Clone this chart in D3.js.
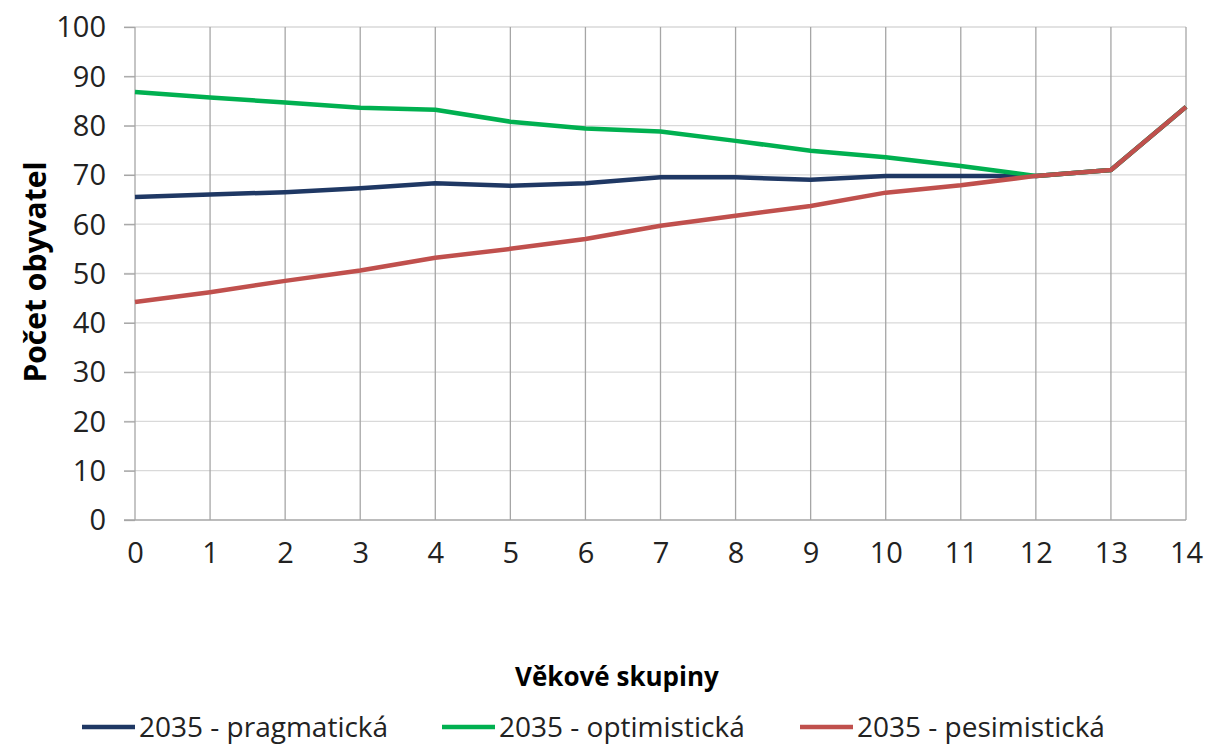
<!DOCTYPE html>
<html><head><meta charset="utf-8">
<script src="https://cdn.jsdelivr.net/npm/d3@7"></script>
<style>body{margin:0;background:#fff}svg{display:block}</style>
</head><body>
<svg id="c" width="1208" height="747"></svg>
<script>
const categories = [0,1,2,3,4,5,6,7,8,9,10,11,12,13,14];
const pragmaticka = [65.5,66.0,66.5,67.3,68.3,67.8,68.3,69.5,69.5,69.0,69.8,69.8,69.8,71.0,83.8];
const optimisticka = [86.8,85.7,84.7,83.6,83.2,80.8,79.4,78.8,76.9,74.9,73.6,71.8,69.8,71.0,83.8];
const pesimisticka = [44.2,46.2,48.5,50.6,53.2,55.0,57.0,59.7,61.7,63.7,66.4,67.9,69.8,71.0,83.8];
const yTicks = [0,10,20,30,40,50,60,70,80,90,100];
const seriesNames = ["2035 - pragmatická","2035 - optimistická","2035 - pesimistická"];
const seriesColors = ["#1f3864","#00b050","#c0504d"];
const xTitle = "Věkové skupiny";
const yTitle = "Počet obyvatel";

const series = [pragmaticka, optimisticka, pesimisticka].map((v,i)=>({name:seriesNames[i], color:seriesColors[i], values:v}));

const svg = d3.select("#c");
const font = "'Open Sans', sans-serif";
const L=135, R=1186, T=27, B=520;
const x = d3.scaleLinear().domain([0,14]).range([L,R]);
const y = d3.scaleLinear().domain([0,100]).range([B,T]);

svg.append("g").selectAll("line").data(yTicks.filter(d=>d>0)).join("line")
  .attr("x1",L-11).attr("x2",R).attr("y1",d=>y(d)).attr("y2",d=>y(d))
  .attr("stroke","#d9d9d9").attr("stroke-width",1.3);
svg.append("g").selectAll("line").data(categories).join("line")
  .attr("x1",d=>x(d)).attr("x2",d=>x(d)).attr("y1",T).attr("y2",B)
  .attr("stroke","#a6a6a6").attr("stroke-width",1.3);

const yAxis = d3.axisLeft(y).tickValues(yTicks).tickSize(11).tickPadding(8);
const gy = svg.append("g").attr("transform",`translate(${L},0)`).call(yAxis);
gy.select(".domain").remove();
gy.selectAll(".tick line").attr("stroke","#a6a6a6").attr("stroke-width",1.3);
gy.selectAll("text").attr("font-family",font).attr("font-size",29).attr("fill","#222").attr("dx",-10).attr("dy","0.34em");

svg.append("line").attr("x1",L-11).attr("x2",R).attr("y1",B).attr("y2",B).attr("stroke","#a6a6a6").attr("stroke-width",1.3);

const xAxis = d3.axisBottom(x).tickValues(categories).tickSize(0).tickPadding(22).tickFormat(d3.format("d"));
const gx = svg.append("g").attr("transform",`translate(0,${B})`).call(xAxis);
gx.select(".domain").remove();
gx.selectAll("text").attr("font-family",font).attr("font-size",29).attr("fill","#222");

const line = d3.line().x((d,i)=>x(categories[i])).y(d=>y(d));
svg.append("g").selectAll("path").data(series).join("path")
  .attr("d",d=>line(d.values)).attr("fill","none").attr("stroke",d=>d.color)
  .attr("stroke-width",4.5).attr("stroke-linejoin","round");

svg.append("text").attr("x",617).attr("y",686).attr("text-anchor","middle")
  .attr("font-family",font).attr("font-weight","bold").attr("font-size",26).attr("fill","#000").text(xTitle);
svg.append("text").attr("transform","translate(46,272) rotate(-90)").attr("text-anchor","middle")
  .attr("font-family",font).attr("font-weight","bold").attr("font-size",30).attr("fill","#000").text(yTitle);

const legX = [82,442,800];
const lg = svg.append("g").selectAll("g").data(series).join("g")
  .attr("transform",(d,i)=>`translate(${legX[i]},727)`);
lg.append("line").attr("x1",0).attr("x2",53).attr("y1",0).attr("y2",0).attr("stroke",d=>d.color).attr("stroke-width",4.5);
lg.append("text").attr("x",57).attr("y",10).attr("font-family",font).attr("font-size",28).attr("fill","#222").text(d=>d.name);
</script>
</body></html>
